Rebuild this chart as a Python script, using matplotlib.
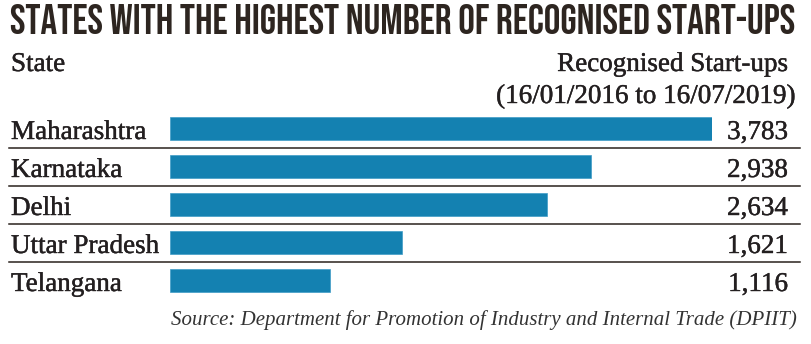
import matplotlib
matplotlib.use("Agg")
import matplotlib.pyplot as plt
import matplotlib.patheffects as pe
from matplotlib.transforms import blended_transform_factory, ScaledTranslation

# Data
states = ["Maharashtra", "Karnataka", "Delhi", "Uttar Pradesh", "Telangana"]
startups = [3783, 2938, 2634, 1621, 1116]

title = "STATES WITH THE HIGHEST NUMBER OF RECOGNISED START-UPS"
col_left = "State"
col_right = ["Recognised Start-ups", "(16/01/2016 to 16/07/2019)"]
source = "Source: Department for Promotion of Industry and Internal Trade (DPIIT)"

W, H = 811, 344
BAR = "#1481b1"
INK = "#231f20"
SERIF = ["Liberation Serif", "DejaVu Serif"]
heavy = [pe.withStroke(linewidth=0.3, foreground=INK)]

fig = plt.figure(figsize=(W / 100, H / 100), dpi=100)
fig.patch.set_facecolor("white")

# axes placed so bars start at x=170px, rows 38px apart
row_h = 38
top = 128.5 - row_h / 2
ax = fig.add_axes([170 / W, 1 - (top + row_h * len(states)) / H, (712 - 170) / W, row_h * len(states) / H])
ax.barh(range(len(states)), startups, height=0.6, color=BAR, edgecolor="#3f9cc6", linewidth=0.5)
ax.set_xlim(0, max(startups))
ax.set_ylim(len(states) - 0.5, -0.5)
ax.axis("off")

fx = blended_transform_factory(fig.transFigure, ax.transData)
base = fx + ScaledTranslation(0, -0.105, fig.dpi_scale_trans)

for i, (s, v) in enumerate(zip(states, startups)):
    fig.text(11 / W, i, s, transform=base, family=SERIF, fontsize=19.5, color=INK, va="baseline", ha="left",
             path_effects=heavy)
    fig.text(788 / W, i, f"{v:,}", transform=base, family=SERIF, fontsize=19.5, color=INK, va="baseline",
             ha="right", path_effects=heavy)
    if i < len(states) - 1:
        ax.plot([9 / W, 800 / W], [i + 0.5, i + 0.5], transform=fx, color="#2a221d", lw=1.1, clip_on=False)

# title, fitted to the width of the graphic
t = fig.text(10 / W, 1 - 34 / H, title, family=["Bebas Neue", "Oswald", "DejaVu Sans"], fontweight=500,
             fontsize=26, color="#2d2520", va="baseline", ha="left")
r = fig.canvas.get_renderer()
w = t.get_window_extent(r).width
t.set_fontsize(26 * 785 / w)

fig.text(11 / W, 1 - 71 / H, col_left, family=SERIF, fontsize=19.5, color=INK, va="baseline", ha="left",
         path_effects=heavy)
fig.text(788 / W, 1 - 71 / H, col_right[0], family=SERIF, fontsize=19.5, color=INK, va="baseline", ha="right",
         path_effects=heavy)
fig.text(795 / W, 1 - 103 / H, col_right[1], family=SERIF, fontsize=19.5, color=INK, va="baseline", ha="right",
         path_effects=heavy)
fig.text(797 / W, 1 - 325 / H, source, family=SERIF, style="italic", fontsize=15, color="#333333",
         va="baseline", ha="right")

fig.savefig("out.png", dpi=100, facecolor="white")
